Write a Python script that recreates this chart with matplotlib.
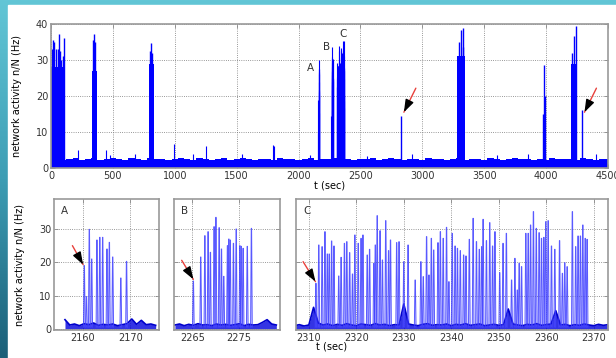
import numpy as np
import matplotlib
matplotlib.use('Agg')
import matplotlib.pyplot as plt
from matplotlib.colors import LinearSegmentedColormap
from matplotlib.patches import Rectangle

# ---- top panel: whole recording ----
body_t0 = [0, 332, 792, 3284, 4204]
body_t1 = [112, 370, 830, 3344, 4248]
body_h = [28, 27, 29, 31, 29]

top_spike_t = [8, 14, 27, 41, 54, 62, 73, 81, 95, 108, 338, 351, 359, 800, 811, 819,
               2829, 3297, 3312, 3325, 3331, 3978, 3984, 3988, 4213, 4229, 4239, 4286]
top_spike_h = [33, 35.5, 35, 33, 33, 37.3, 32.4, 30, 31, 36, 35.6, 37.3, 35, 32.4, 34.7, 32,
               14.5, 35.1, 38.3, 38.8, 33.7, 15, 28.5, 20, 31.9, 36.7, 39.4, 16]

small_t = [222, 446, 475, 680, 995, 1150, 1250, 1540, 1790, 1805, 2090, 2550, 2920, 3600, 3850, 4400]
small_h = [4.9, 5.1, 3.5, 4, 6.8, 4, 6, 4, 6.5, 6, 3.5, 3.2, 3.8, 3.5, 4, 4]

top_base = [2.3, 2.6, 2.1, 2.4, 2.8, 2.2, 2.5, 2.7, 2.3, 2.6, 2.9, 2.4, 2.2, 2.7, 2.5, 2.3,
            2.8, 2.6, 2.4, 2.2, 2.6, 2.9, 2.5, 2.3, 2.7, 2.4, 2.2, 2.6, 2.8, 2.3, 2.5, 2.7,
            2.4, 2.2, 2.6, 2.5, 2.3, 2.8, 2.4, 2.6, 2.2, 2.5, 2.7, 2.3, 2.4, 2.6, 2.8, 2.3,
            2.5, 2.2, 2.6, 2.4, 2.7, 2.3, 2.5, 2.8, 2.4, 2.2, 2.6, 2.5, 2.3, 2.7, 2.4, 2.6,
            2.2, 2.5, 2.8, 2.3, 2.6, 2.4, 2.2, 2.7, 2.5, 2.3, 2.6, 2.8, 2.4, 2.5, 2.2, 2.6,
            2.3, 2.7, 2.5, 2.4, 2.6, 2.2, 2.8, 2.5, 2.3, 2.6, 2.4]

# ---- zoomed bursts ----
a_t = [2160.35, 2160.8, 2161.4, 2161.9, 2163.0, 2163.6, 2164.2, 2165.1, 2165.6, 2166.3, 2168.0, 2169.2]
a_h = [19, 9.7, 29.9, 21, 26.7, 27.5, 27.5, 24, 26, 21.6, 15.3, 20.3]
a_base_start = 2156.3
a_base = [2.8, 1.2, 1.5, 1.0, 1.6, 1.3, 1.8, 1.1, 1.4, 1.2, 1.5, 1.0, 1.3, 1.6, 3.0, 1.4, 2.6, 1.3, 1.5, 1.1]

b_t = [2265.2, 2266.8, 2267.7, 2268.4, 2268.9, 2269.7, 2270.1, 2270.8, 2271.3, 2271.8,
       2272.6, 2272.9, 2273.2, 2273.9, 2274.5, 2275.3, 2275.6, 2276.0, 2276.9, 2277.8]
b_h = [14.4, 21.6, 28, 29.2, 23, 30.7, 33.5, 30.4, 24, 15.8,
       25, 27, 26.7, 25.7, 30, 25, 24.8, 24.2, 24.8, 30.2]
b_base_start = 2261.2
b_base = [1.2, 1.5, 1.0, 1.4, 1.1, 1.6, 1.2, 1.3, 1.0, 1.5, 1.2, 1.4, 1.1, 1.3, 1.6, 1.0,
          1.4, 1.2, 1.3, 2.0, 2.8, 1.5, 1.2]

c_t = [2311.5, 2312.1, 2312.8, 2313.4, 2313.9, 2314.3, 2314.8, 2315.3, 2316.3, 2316.8,
       2317.5, 2318.0, 2318.6, 2319.2, 2319.7, 2320.4, 2321.0, 2321.4, 2322.3, 2322.8,
       2323.7, 2324.0, 2324.4, 2325.0, 2325.5, 2326.2, 2326.8, 2327.2, 2328.5, 2329.0,
       2330.0, 2330.9, 2332.4, 2333.6, 2334.1, 2334.8, 2335.3, 2335.8, 2336.3, 2337.2,
       2337.7, 2338.3, 2339.0, 2339.5, 2340.2, 2340.8, 2341.3, 2341.9, 2342.6, 2343.1,
       2343.8, 2344.6, 2345.3, 2345.9, 2346.4, 2346.7, 2347.4, 2348.1, 2348.7, 2349.2,
       2350.2, 2350.9, 2351.6, 2352.7, 2353.4, 2353.9, 2354.3, 2354.8, 2355.7, 2356.2,
       2356.7, 2357.3, 2357.9, 2358.5, 2359.0, 2359.5, 2359.9, 2360.4, 2361.1, 2361.8,
       2362.8, 2363.4, 2363.9, 2364.4, 2365.5, 2366.2, 2366.7, 2367.2, 2367.7, 2368.2, 2368.6]
c_h = [13.7, 25.2, 24.7, 29.2, 22.5, 22.5, 26.4, 24.9, 15.9, 21.5,
       25.7, 26.2, 22.9, 16.5, 28.2, 25.7, 27.2, 28.2, 22.2, 23.9,
       19.7, 25.2, 34, 29.5, 20.7, 32.5, 23.5, 26.7, 25.9, 26.2,
       20.2, 25.2, 14.7, 20.2, 15.7, 27.7, 16.2, 27.2, 23.7, 25.9,
       29.2, 27.2, 30.5, 14.2, 28.7, 24.9, 24.2, 23.5, 22.2, 21.9,
       26.9, 33.2, 26.2, 23.9, 24.7, 32.9, 26.5, 31.9, 24.9, 29.2,
       16.9, 25.7, 28.7, 14.7, 21.2, 11.7, 19.7, 18.7, 28.7, 28.7,
       31.2, 35.2, 30.2, 28.9, 27.2, 27.5, 32.2, 32.5, 24.9, 23.9,
       26.5, 16.7, 19.9, 18.7, 35.2, 24.7, 27.9, 27.9, 31.2, 27.2, 26.9]
c_base_start = 2307
c_base = [1.0, 1.3, 0.9, 1.2, 6.5, 1.8, 1.2, 1.5, 1.0, 1.4, 1.1, 1.6, 1.2, 1.0, 1.5, 1.3,
          1.1, 1.6, 1.2, 1.4, 1.0, 1.3, 1.2, 7.5, 1.5, 1.2, 1.0, 1.4, 1.6, 1.1, 1.3, 1.2,
          1.5, 1.0, 1.4, 1.2, 1.6, 1.1, 1.3, 1.5, 1.0, 1.2, 1.4, 1.1, 1.3, 6.0, 1.5, 1.2,
          1.0, 1.4, 1.2, 1.6, 1.1, 1.3, 1.5, 5.5, 1.2, 1.4, 1.0, 1.3, 1.1, 1.5, 1.2, 1.0,
          1.4, 1.1, 1.3]

W, H = 616, 358
fig = plt.figure(figsize=(W / 100, H / 100), dpi=100)

# slide background
bg = fig.add_axes([0, 0, 1, 1], zorder=-10)
cmap = LinearSegmentedColormap.from_list('teal', ['#1b5f78', '#3d9db4', '#62c6d6'])
bg.imshow(np.linspace(0, 1, 256)[:, None], cmap=cmap, aspect='auto', extent=[0, 1, 0, 1], origin='lower')
bg.add_patch(Rectangle((8 / W, 0), 1, 1 - 5 / H, color='white', transform=bg.transAxes))
bg.set_xlim(0, 1)
bg.set_ylim(0, 1)
bg.axis('off')


def px_axes(x0, x1, y0, y1):
    return fig.add_axes([x0 / W, 1 - y1 / H, (x1 - x0) / W, (y1 - y0) / H])


def style(ax):
    for s in ax.spines.values():
        s.set_color('#999999')
        s.set_linewidth(1.2)
    ax.tick_params(direction='in', length=3, width=0.6, color='#888888',
                   labelsize=7, labelcolor='#333333', pad=2, top=True, right=True)
    ax.grid(True, linestyle=':', color='#777777', linewidth=0.6)
    ax.set_axisbelow(True)


def arrow(ax, x, y, dx, dy):
    ax.annotate('', xy=(x, y), xytext=(dx, dy), textcoords='offset points',
                arrowprops=dict(arrowstyle='-', color='#e8413c', lw=1.0, shrinkA=0, shrinkB=0))
    ax.annotate('', xy=(x, y), xytext=(dx * 0.45, dy * 0.45), textcoords='offset points',
                arrowprops=dict(arrowstyle='-|>,head_length=0.75,head_width=0.26', color='black',
                                lw=1, shrinkA=0, shrinkB=0))


# ---- top panel ----
ax = px_axes(51, 608, 24, 168)
style(ax)
bt = np.linspace(0, 4500, len(top_base))
ax.fill_between(bt, 0, top_base, step='mid', color='#0000ff', lw=0)
for t0, t1, h in zip(body_t0, body_t1, body_h):
    ax.fill_between([t0, t1], 0, h, color='#0000ff', lw=0)
ax.vlines(top_spike_t, 0, top_spike_h, color='#0000ff', lw=1.0)
ax.vlines(small_t, 0, small_h, color='#0000ff', lw=0.8)
for ts, hs in [(a_t, a_h), (b_t, b_h), (c_t, c_h)]:
    ax.vlines(ts, 0, hs, color='#0000ff', lw=0.8)
ax.set_xlim(0, 4500)
ax.set_ylim(0, 40)
ax.set_xticks(range(0, 4501, 500))
ax.set_yticks(range(0, 41, 10))
ax.set_xlabel('t (sec)', fontsize=7, labelpad=0)
ax.set_ylabel('network activity n/N (Hz)', fontsize=7)
ax.yaxis.set_label_coords(-0.052, 0.5)
ax.text(2097, 27.9, 'A', fontsize=7.5, color='#333333', ha='center', va='center')
ax.text(2224, 33.5, 'B', fontsize=7.5, color='#333333', ha='center', va='center')
ax.text(2358, 37.1, 'C', fontsize=7.5, color='#333333', ha='center', va='center')
arrow(ax, 2851, 15.5, 8.6, 17.3)
arrow(ax, 4310, 15.5, 8.6, 17.3)

# ---- zoomed panels ----
panels = [
    ('A', 54, 159, (2154, 2176), [2160, 2170], a_t, a_h, a_base_start, a_base),
    ('B', 174, 280, (2261, 2284), [2265, 2275], b_t, b_h, b_base_start, b_base),
    ('C', 296, 608, (2307.3, 2373), list(range(2310, 2371, 10)), c_t, c_h, c_base_start, c_base),
]
for name, x0, x1, xlim, xt, ts, hs, bstart, base in panels:
    axz = px_axes(x0, x1, 199, 330)
    style(axz)
    tb = bstart + np.arange(len(base))
    axz.fill_between(tb, 0, base, color='#1010e0', lw=0, alpha=0.85)
    axz.plot(tb, base, color='#0000cc', lw=1.2)
    for t, h in zip(ts, hs):
        xs = [t - 0.18, t - 0.04, t + 0.04, t + 0.18]
        ys = [0.5, h, h, 0.5]
        axz.fill(xs, ys, color='#7777ff', alpha=0.3, lw=0)
        axz.plot(xs, ys, color='#4040ff', lw=0.7, alpha=0.85)
    axz.set_xlim(*xlim)
    axz.set_ylim(-0.3, 39)
    axz.set_xticks(xt)
    axz.set_yticks([0, 10, 20, 30])
    axz.annotate(name, xy=(0, 1), xycoords='axes fraction', xytext=(5, -5),
                 textcoords='offset points', fontsize=7.5, color='#333333', va='top')
    if name == 'A':
        axz.set_ylabel('network activity n/N (Hz)', fontsize=7)
        axz.yaxis.set_label_coords(-0.276, 0.5)
        arrow(axz, 2160.1, 19.3, -7.7, 13.7)
    else:
        axz.tick_params(labelleft=False)
    if name == 'B':
        arrow(axz, 2265.2, 14.9, -8.4, 13.7)
    if name == 'C':
        axz.set_xlabel('t (sec)', fontsize=7, labelpad=0)
        axz.xaxis.set_label_coords(0.115, -0.09)
        arrow(axz, 2311.4, 14.2, -8.9, 14.4)

fig.savefig('out.png', dpi=100)
